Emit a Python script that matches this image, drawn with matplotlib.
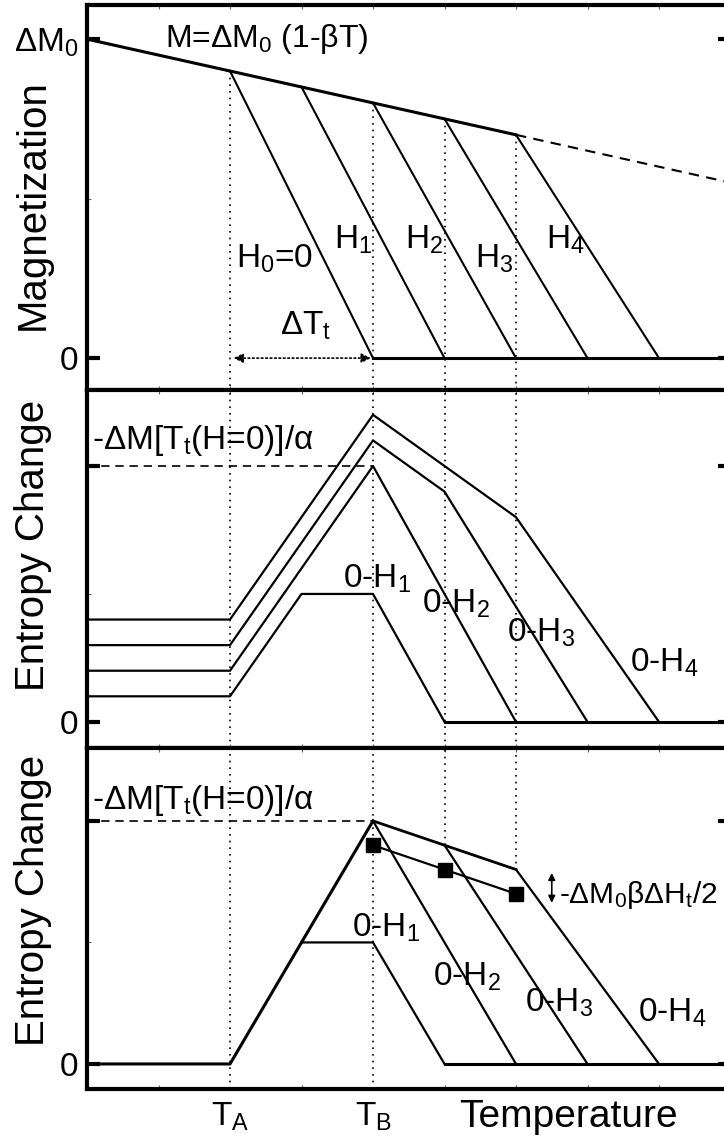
import numpy as np
import matplotlib.pyplot as plt

plt.rcParams['font.family'] = ['Liberation Sans', 'DejaVu Sans']
plt.rcParams['mathtext.fontset'] = 'custom'
plt.rcParams['mathtext.rm'] = 'Liberation Sans'
plt.rcParams['mathtext.default'] = 'regular'

# temperature in arbitrary units: T_A = 2, T_B = 4
T_marks = [2, 4, 5, 6]

# panel 1: magnetization
M_T = [0, 2, 3, 4, 5, 6]
M_val = [1.0, 0.9, 0.85, 0.8, 0.75, 0.7]
M_dash_T = [6, 9]
M_dash_val = [0.7, 0.55]
drop_start = [2, 3, 4, 5, 6]
drop_end = [4, 5, 6, 7, 8]
drop_labels = ['H$_0$=0', 'H$_1$', 'H$_2$', 'H$_3$', 'H$_4$']
drop_lab_pos = [(2.08, 0.31), (3.45, 0.37), (4.45, 0.37), (5.42, 0.31), (6.42, 0.37)]

# panel 2: entropy change, curves 0-H1 .. 0-H4
s2_T = [[0, 2, 3, 4, 5],
        [0, 2, 4, 6],
        [0, 2, 4, 5, 7],
        [0, 2, 4, 6, 8]]
s2_val = [[0.1, 0.1, 0.5, 0.5, 0.0],
          [0.2, 0.2, 1.0, 0.0],
          [0.3, 0.3, 1.1, 0.9, 0.0],
          [0.4, 0.4, 1.2, 0.8, 0.0]]
s2_lab_pos = [(3.58, 0.56), (4.69, 0.46), (5.87, 0.35), (7.6, 0.23)]

# panel 3: entropy change, corrected
base_T = [0, 2, 4]
base_val = [0.0, 0.0, 1.0]
env_T = [4, 5, 6]
env_val = [1.0, 0.9, 0.8]
s3_T = [[3, 4, 5], [4, 6], [5, 7], [6, 8]]
s3_val = [[0.5, 0.5, 0.0], [1.0, 0.0], [0.9, 0.0], [0.8, 0.0]]
sq_T = [4, 5, 6]
sq_val = [0.9, 0.8, 0.7]
s3_lab_pos = [(3.71, 0.56), (4.84, 0.36), (6.13, 0.25), (7.7, 0.21)]
h_labels = ['0-H$_1$', '0-H$_2$', '0-H$_3$', '0-H$_4$']

W, H = 724, 1142
fig = plt.figure(figsize=(W / 100, H / 100), dpi=100)


def rect(top, bottom):
    return [87 / W, 1 - bottom / H, 9 * 71.5 / W, (bottom - top) / H]


ax1 = fig.add_axes(rect(5, 390))
ax2 = fig.add_axes(rect(390, 748))
ax3 = fig.add_axes(rect(748, 1089))

fs = 24
for ax in (ax1, ax2, ax3):
    ax.set_xlim(0, 9)
    for s in ax.spines.values():
        s.set_linewidth(3)
    ax.tick_params(which='major', direction='in', length=9.5, width=3,
                   labelsize=fs, pad=6, right=True, top=False)
    ax.tick_params(which='minor', direction='in', length=3, width=0.8,
                   right=True, top=True, bottom=True, color='0.4')
    ax.set_xticks(range(1, 9), minor=True)
    ax.set_xticks([])
    ax.set_yticks([0.5], minor=True)

ax1.set_ylim(-0.1, 1.107)
ax2.set_ylim(-0.102, 1.297)
ax3.set_ylim(-0.103, 1.30)

# ---- panel 1
ax1.set_yticks([0, 1])
ax1.set_yticklabels(['0', '$\\Delta$M$_0$'])
ax1.plot(M_T, M_val, 'k-', lw=2.2)
ax1.plot(M_dash_T, M_dash_val, 'k', ls=(0, (5, 3.5)), lw=1.5)
for t0, t1 in zip(drop_start, drop_end):
    ax1.plot([t0, t1], [M_val[M_T.index(t0)], 0], 'k-', lw=1.5)
ax1.plot([4, 9], [0, 0], 'k-', lw=2.2)
for T in T_marks:
    ax1.plot([T, T], [M_val[M_T.index(T)], -0.1], 'k', ls=(0, (1, 3)), lw=1.2)
for lab, (x, y) in zip(drop_labels, drop_lab_pos):
    ax1.text(x, y, lab, fontsize=fs, va='center', ha='left')
ax1.text(1.09, 1.0, 'M=$\\Delta$M$_0$ (1-βT)', fontsize=23, va='center', ha='left')
ax1.annotate('', xy=(2.05, 0), xytext=(3.97, 0),
             arrowprops=dict(arrowstyle='<|-|>', ls=':', lw=1.2, color='k',
                             mutation_scale=14, shrinkA=0, shrinkB=0))
ax1.text(2.7, 0.1, '$\\Delta$T$_t$', fontsize=fs, va='center', ha='left')

# ---- panel 2
ax2.set_yticks([0, 1])
ax2.set_yticklabels(['0', ''])
for T in T_marks:
    ax2.plot([T, T], [-0.102, 1.297], 'k', ls=(0, (1, 3)), lw=1.2)
ax2.plot([0, 4], [1, 1], 'k', ls=(0, (5, 3.5)), lw=1.2)
for ts, vs in zip(s2_T, s2_val):
    ax2.plot(ts, vs, 'k-', lw=1.6)
ax2.plot([5, 9], [0, 0], 'k-', lw=2.2)
for lab, (x, y) in zip(h_labels, s2_lab_pos):
    ax2.text(x, y, lab, fontsize=fs, va='center', ha='left')
ax2.text(0.07, 1.10, '-$\\Delta$M[T$_t$(H=0)]/α', fontsize=fs, va='center', ha='left')

# ---- panel 3
ax3.set_yticks([0, 1])
ax3.set_yticklabels(['0', ''])
for T in [2, 4]:
    ax3.plot([T, T], [-0.103, 1.30], 'k', ls=(0, (1, 3)), lw=1.2)
for T, v in zip(env_T[1:], env_val[1:]):
    ax3.plot([T, T], [v, 1.30], 'k', ls=(0, (1, 3)), lw=1.2)
ax3.plot([0, 4], [1, 1], 'k', ls=(0, (5, 3.5)), lw=1.2)
ax3.plot(base_T, base_val, 'k-', lw=2.2)
ax3.plot(env_T, env_val, 'k-', lw=2.0)
for ts, vs in zip(s3_T, s3_val):
    ax3.plot(ts, vs, 'k-', lw=1.6)
ax3.plot([5, 9], [0, 0], 'k-', lw=2.2)
ax3.plot(sq_T, sq_val, 'k-', lw=1.6, marker='s', ms=10)
for lab, (x, y) in zip(h_labels, s3_lab_pos):
    ax3.text(x, y, lab, fontsize=fs, va='center', ha='left')
ax3.text(0.07, 1.086, '-$\\Delta$M[T$_t$(H=0)]/α', fontsize=fs, va='center', ha='left')
ax3.annotate('', xy=(6.5, 0.786), xytext=(6.5, 0.663),
             arrowprops=dict(arrowstyle='<|-|>', lw=1.2, color='k',
                             mutation_scale=10, shrinkA=0, shrinkB=0))
ax3.text(6.6, 0.695, '-$\\Delta$M$_0$β$\\Delta$H$_t$/2', fontsize=21.5, va='center', ha='left')
ax3.set_xticks([2, 4])
ax3.set_xticklabels(['T$_A$', 'T$_B$'])
ax3.tick_params(axis='x', which='major', length=0, pad=8)

fig.text(33 / W, 1 - 205 / H, 'Magnetization', rotation=90, fontsize=29,
         ha='center', va='center')
fig.text(33 / W, 1 - 545 / H, 'Entropy Change', rotation=90, fontsize=29,
         ha='center', va='center')
fig.text(33 / W, 1 - 900 / H, 'Entropy Change', rotation=90, fontsize=29,
         ha='center', va='center')
fig.text(568 / W, 1 - 1117 / H, 'Temperature', fontsize=28,
         ha='center', va='center')

fig.savefig('out.png', dpi=100)
